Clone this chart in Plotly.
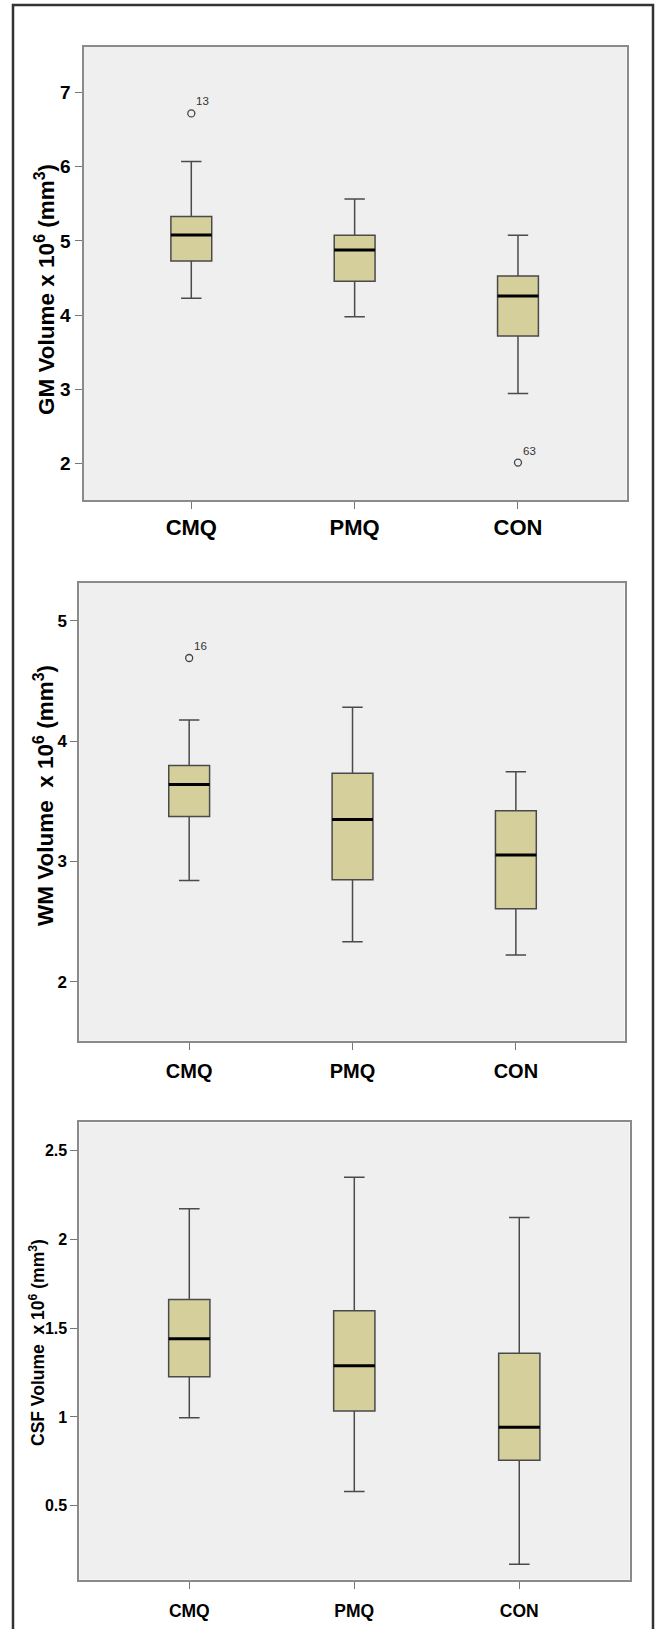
import plotly.graph_objects as go

# ---------------- data ----------------
categories = ["CMQ", "PMQ", "CON"]

gm_lower = [4.225, 3.977, 2.943]
gm_q1 = [4.73, 4.455, 3.716]
gm_median = [5.08, 4.877, 4.256]
gm_q3 = [5.33, 5.075, 4.526]
gm_upper = [6.07, 5.565, 5.075]
gm_out_group = ["CMQ", "CON"]
gm_out_value = [6.72, 2.01]
gm_out_label = ["13", "63"]

wm_lower = [2.842, 2.332, 2.223]
wm_q1 = [3.372, 2.848, 2.607]
wm_median = [3.639, 3.347, 3.054]
wm_q3 = [3.797, 3.733, 3.421]
wm_upper = [4.175, 4.281, 3.745]
wm_out_group = ["CMQ"]
wm_out_value = [4.69]
wm_out_label = ["16"]

csf_lower = [0.995, 0.580, 0.169]
csf_q1 = [1.226, 1.034, 0.756]
csf_median = [1.441, 1.289, 0.942]
csf_q3 = [1.662, 1.598, 1.359]
csf_upper = [2.173, 2.351, 2.124]

gm_ticks = [2, 3, 4, 5, 6, 7]
wm_ticks = [2, 3, 4, 5]
csf_ticks = [0.5, 1, 1.5, 2, 2.5]
csf_ticklabels = ["0.5", "1", "1.5", "2", "2.5"]

gm_title = "GM Volume x 10<sup>6</sup> (mm<sup>3</sup>)"
wm_title = "WM Volume &nbsp;x 10<sup>6</sup> (mm<sup>3</sup>)"
csf_title = "CSF Volume &nbsp;x 10<sup>6</sup> (mm<sup>3</sup>)"

# ---------------- style ----------------
W, H = 655, 1629
FONT = "Liberation Sans, Arial, sans-serif"
BOX_FILL = "#D5CF9C"
BOX_LINE = "#4a4a4a"
BOX_W = 0.25
PLOT_BG = "#EFEFEF"

def px_x(p):
    return p / W

def px_y(p):
    return 1 - p / H

panels = [
    dict(lower=gm_lower, q1=gm_q1, med=gm_median, q3=gm_q3, up=gm_upper,
         og=gm_out_group, ov=gm_out_value, ol=gm_out_label,
         xdom=[px_x(83.5), px_x(626.6)], ydom=[px_y(500), px_y(46.7)],
         yrange=[1.505, 7.62], xrange=[-0.66, 2.665],
         ticks=gm_ticks, ticktext=[str(t) for t in gm_ticks],
         ytick_size=19, xtick_size=22, xstand=0,
         title=gm_title, tsize=22.5, tpos=(45, 290)),
    dict(lower=wm_lower, q1=wm_q1, med=wm_median, q3=wm_q3, up=wm_upper,
         og=wm_out_group, ov=wm_out_value, ol=wm_out_label,
         xdom=[px_x(79.4), px_x(624.5)], ydom=[px_y(1040.7), px_y(583)],
         yrange=[1.51, 5.313], xrange=[-0.672, 2.665],
         ticks=wm_ticks, ticktext=[str(t) for t in wm_ticks],
         ytick_size=17, xtick_size=20, xstand=4,
         title=wm_title, tsize=22.5, tpos=(44, 796)),
    dict(lower=csf_lower, q1=csf_q1, med=csf_median, q3=csf_q3, up=csf_upper,
         og=[], ov=[], ol=[],
         xdom=[px_x(79.4), px_x(629.5)], ydom=[px_y(1579.6), px_y(1122.4)],
         yrange=[0.083, 2.66], xrange=[-0.666, 2.668],
         ticks=csf_ticks, ticktext=csf_ticklabels,
         ytick_size=16, xtick_size=17.5, xstand=7,
         title=csf_title, tsize=17.5, tpos=(37, 1343)),
]

fig = go.Figure()
annotations = []
xpos = list(range(len(categories)))

for i, p in enumerate(panels, start=1):
    xa = "x" if i == 1 else f"x{i}"
    ya = "y" if i == 1 else f"y{i}"
    fig.add_trace(go.Box(
        x=xpos, q1=p["q1"], median=p["med"], q3=p["q3"],
        lowerfence=p["lower"], upperfence=p["up"],
        boxpoints=False, width=BOX_W, whiskerwidth=0.5,
        fillcolor=BOX_FILL, line=dict(color=BOX_LINE, width=1.5),
        xaxis=xa, yaxis=ya, showlegend=False, hoverinfo="skip",
    ))
    # thick black median lines
    mx, my = [], []
    for k, m in zip(xpos, p["med"]):
        mx += [k - BOX_W / 2, k + BOX_W / 2, None]
        my += [m, m, None]
    fig.add_trace(go.Scatter(x=mx, y=my, mode="lines",
                             line=dict(color="black", width=3),
                             xaxis=xa, yaxis=ya, showlegend=False, hoverinfo="skip"))
    # outliers
    if p["ov"]:
        ox = [categories.index(g) for g in p["og"]]
        fig.add_trace(go.Scatter(x=ox, y=p["ov"], mode="markers",
                                 marker=dict(symbol="circle-open", size=7,
                                             color="#444", line=dict(width=1.3)),
                                 xaxis=xa, yaxis=ya, showlegend=False, hoverinfo="skip"))
        for xx, yy, lab in zip(ox, p["ov"], p["ol"]):
            annotations.append(dict(x=xx, y=yy, xref=xa, yref=ya, text=lab,
                                    showarrow=False, xanchor="left", yanchor="bottom",
                                    xshift=3, yshift=4,
                                    font=dict(family=FONT, size=11.5, color="#333")))
    axis_common = dict(showline=True, mirror=True, linecolor="#8a8a8a", linewidth=2,
                       showgrid=False, zeroline=False, ticks="outside",
                       tickcolor="#777", tickwidth=1.3, ticklen=7)
    fig.update_layout(**{
        ("xaxis" if i == 1 else f"xaxis{i}"): dict(
            axis_common, domain=p["xdom"], range=p["xrange"], anchor=ya,
            tickvals=xpos, ticktext=categories, ticklabelstandoff=p["xstand"],
            tickfont=dict(family=FONT, size=p["xtick_size"], color="black", weight="bold")),
        ("yaxis" if i == 1 else f"yaxis{i}"): dict(
            axis_common, domain=p["ydom"], range=p["yrange"], anchor=xa,
            tickvals=p["ticks"], ticktext=p["ticktext"],
            tickfont=dict(family=FONT, size=p["ytick_size"], color="black", weight="bold")),
    })
    annotations.append(dict(x=px_x(p["tpos"][0]), y=px_y(p["tpos"][1]), xref="paper", yref="paper",
                            text=p["title"], textangle=-90, showarrow=False,
                            xanchor="center", yanchor="middle",
                            font=dict(family=FONT, size=p["tsize"], color="black", weight="bold")))

fig.update_layout(
    width=W, height=H, margin=dict(l=0, r=0, t=0, b=0),
    paper_bgcolor="white", plot_bgcolor=PLOT_BG,
    annotations=annotations,
    shapes=[dict(type="rect", xref="paper", yref="paper",
                 x0=px_x(13), x1=px_x(653), y0=-0.01, y1=px_y(5),
                 line=dict(color="#333", width=2.5), fillcolor="rgba(0,0,0,0)", layer="above")],
)

fig.write_html("out.html", config={"displayModeBar": False},
               post_script="document.body.style.margin='0';document.body.style.padding='0';")
